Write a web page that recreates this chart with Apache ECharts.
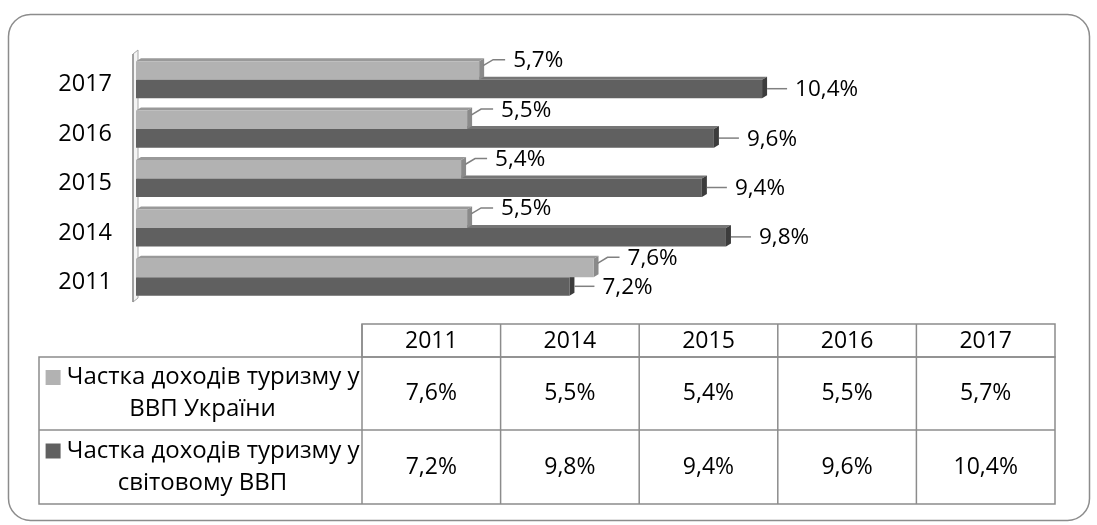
<!DOCTYPE html>
<html><head><meta charset="utf-8">
<script src="https://cdn.jsdelivr.net/npm/echarts@6/dist/echarts.min.js"></script>
<style>html,body{margin:0;padding:0;background:#fff}#c{width:1097px;height:525px}</style>
</head><body><div id="c"></div>
<script>
const categories = ['2011', '2014', '2015', '2016', '2017'];
const seriesLine1 = ['Частка доходів туризму у', 'Частка доходів туризму у'];
const seriesLine2 = ['ВВП України', 'світовому ВВП'];
const ukraineShare = [7.6, 5.5, 5.4, 5.5, 5.7];
const worldShare = [7.2, 9.8, 9.4, 9.6, 10.4];

const FONT = '"Open Sans", "DejaVu Sans", sans-serif';
const LIGHT = { front: '#b2b2b2', top: '#999999', side: '#8a8a8a' };
const DARK = { front: '#606060', top: '#767676', side: '#3c3c3c' };
const fmt = v => v.toFixed(1).replace('.', ',') + '%';

const GRID = { left: 136, top: 55, width: 903, height: 247 };

function makeRender(colors, isUpper) {
  return function (params, api) {
    const v = api.value(0);
    const ci = api.value(1);
    const p0 = api.coord([0, ci]);
    const p1 = api.coord([v, ci]);
    const band = api.size([0, 1])[1];
    const h = band * 0.375;
    const dx = 5, dy = 3;
    const x0 = p0[0], x1 = p1[0], c = p0[1];
    const yTop = isUpper ? c - h : c;
    const yBot = yTop + h;
    const children = [
      { type: 'polygon', shape: { points: [[x0, yTop], [x0 + dx, yTop - dy], [x1 + dx, yTop - dy], [x1, yTop]] }, style: { fill: colors.top } },
      { type: 'polygon', shape: { points: [[x1, yTop], [x1 + dx, yTop - dy], [x1 + dx, yBot - dy], [x1, yBot]] }, style: { fill: colors.side } },
      { type: 'rect', shape: { x: x0, y: yTop, width: x1 - x0, height: h }, style: { fill: colors.front } }
    ];
    if (isUpper) {
      children.push({ type: 'polyline', shape: { points: [[x1 + 4, c - 14], [x1 + 14, c - 20], [x1 + 26, c - 20]] }, style: { stroke: '#808080', lineWidth: 1.5, fill: null } });
      children.push({ type: 'text', x: x1 + 34, y: c - 19, style: { text: fmt(v), fontFamily: FONT, fontSize: 22.5, fill: '#000', align: 'left', verticalAlign: 'middle' } });
    } else {
      children.push({ type: 'polyline', shape: { points: [[x1 + 5, c + 9], [x1 + 25, c + 9]] }, style: { stroke: '#808080', lineWidth: 1.5, fill: null } });
      children.push({ type: 'text', x: x1 + 33, y: c + 10, style: { text: fmt(v), fontFamily: FONT, fontSize: 22.5, fill: '#000', align: 'left', verticalAlign: 'middle' } });
    }
    return { type: 'group', children: children };
  };
}

// table
const T = { left: 39, labelRight: 362, right: 1055, headTop: 324, row1: 357, row2: 430, bottom: 504 };
const colW = (T.right - T.labelRight) / categories.length;
const border = { stroke: '#8c8c8c', lineWidth: 1.5, fill: null };
const TFS = 23;
const graphics = [
  { type: 'rect', shape: { x: 8.5, y: 14.5, width: 1081, height: 506, r: 22 }, style: { fill: 'none', stroke: '#8c8c8c', lineWidth: 1.5 }, z: 0 },
  { type: 'polygon', shape: { points: [[133, 54], [138, 50], [138, 298], [133, 302]] }, style: { fill: '#f4f4f4', stroke: '#a8a8a8', lineWidth: 1 } },
  { type: 'line', shape: { x1: 133, y1: 54, x2: 133, y2: 302 }, style: { stroke: '#8f8f8f', lineWidth: 1.5 } },
  { type: 'rect', shape: { x: T.labelRight, y: T.headTop, width: T.right - T.labelRight, height: T.row1 - T.headTop }, style: border },
  { type: 'rect', shape: { x: T.left, y: T.row1, width: T.right - T.left, height: T.bottom - T.row1 }, style: border },
  { type: 'line', shape: { x1: T.left, y1: T.row2, x2: T.right, y2: T.row2 }, style: border }
];
categories.forEach((cat, i) => {
  const xl = T.labelRight + i * colW;
  graphics.push({ type: 'line', shape: { x1: xl, y1: T.headTop, x2: xl, y2: T.bottom }, style: border });
  const cx = xl + colW / 2;
  graphics.push({ type: 'text', x: cx, y: (T.headTop + T.row1) / 2 + 1, style: { text: cat, fontFamily: FONT, fontSize: TFS, fill: '#000', align: 'center', verticalAlign: 'middle' } });
  graphics.push({ type: 'text', x: cx, y: (T.row1 + T.row2) / 2, style: { text: fmt(ukraineShare[i]), fontFamily: FONT, fontSize: TFS, fill: '#000', align: 'center', verticalAlign: 'middle' } });
  graphics.push({ type: 'text', x: cx, y: (T.row2 + T.bottom) / 2, style: { text: fmt(worldShare[i]), fontFamily: FONT, fontSize: TFS, fill: '#000', align: 'center', verticalAlign: 'middle' } });
});
[[T.row1, T.row2, LIGHT.front], [T.row2, T.bottom, DARK.front]].forEach((r, k) => {
  graphics.push({
    type: 'text', x: (T.left + T.labelRight) / 2 + 2, y: (r[0] + r[1]) / 2,
    style: {
      text: '{sq|}{t| ' + seriesLine1[k] + '}\n{t|' + seriesLine2[k] + '}',
      align: 'center', verticalAlign: 'middle', fontFamily: FONT, fontSize: 24, fill: '#000',
      rich: {
        sq: { width: 15, height: 15, backgroundColor: r[2] },
        t: { fontFamily: FONT, fontSize: 24, lineHeight: 32, fill: '#000' }
      }
    }
  });
});

const chart = echarts.init(document.getElementById('c'), null, { renderer: 'canvas' });
chart.setOption({
  animation: false,
  backgroundColor: '#fff',
  grid: GRID,
  xAxis: { type: 'value', min: 0, max: 15, show: false },
  yAxis: {
    type: 'category', data: categories,
    axisLine: { show: false }, axisTick: { show: false }, splitLine: { show: false },
    axisLabel: { fontFamily: FONT, fontSize: 23.5, color: '#000', margin: 24, verticalAlign: 'top', lineHeight: 10 }
  },
  series: [
    { type: 'custom', name: 'world', z: 2, clip: false, renderItem: makeRender(DARK, false), encode: { x: 0, y: 1 }, data: worldShare.map((v, i) => [v, i]) },
    { type: 'custom', name: 'ukraine', z: 3, clip: false, renderItem: makeRender(LIGHT, true), encode: { x: 0, y: 1 }, data: ukraineShare.map((v, i) => [v, i]) }
  ],
  graphic: graphics
});
</script>
</body></html>
